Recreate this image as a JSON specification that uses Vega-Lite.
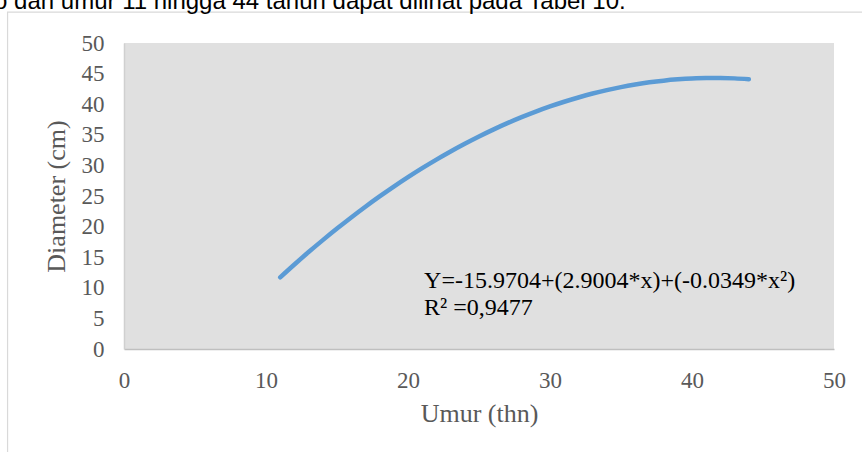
{
  "$schema": "https://vega.github.io/schema/vega-lite/v6.json",
  "width": 710,
  "height": 306,
  "autosize": {"type": "none"},
  "padding": {"left": 124, "top": 43, "right": 28, "bottom": 103},
  "background": "white",
  "config": {
    "view": {"fill": "#e0e0e0", "stroke": null},
    "axis": {
      "grid": false,
      "ticks": false,
      "tickSize": 0,
      "labelOverlap": false,
      "labelFlush": false,
      "labelFont": "Liberation Serif",
      "labelFontSize": 23,
      "labelColor": "#595959",
      "titleFont": "Liberation Serif",
      "titleFontSize": 26,
      "titleFontWeight": "normal",
      "titleColor": "#595959",
      "domainWidth": 1.5
    }
  },
  "layer": [
    {
      "data": {
        "values": [
          {"umur": 11, "diameter": 11.71},
          {"umur": 12, "diameter": 13.81},
          {"umur": 13, "diameter": 15.84},
          {"umur": 14, "diameter": 17.79},
          {"umur": 15, "diameter": 19.68},
          {"umur": 16, "diameter": 21.50},
          {"umur": 17, "diameter": 23.25},
          {"umur": 18, "diameter": 24.93},
          {"umur": 19, "diameter": 26.54},
          {"umur": 20, "diameter": 28.08},
          {"umur": 21, "diameter": 29.55},
          {"umur": 22, "diameter": 30.95},
          {"umur": 23, "diameter": 32.28},
          {"umur": 24, "diameter": 33.54},
          {"umur": 25, "diameter": 34.73},
          {"umur": 26, "diameter": 35.85},
          {"umur": 27, "diameter": 36.90},
          {"umur": 28, "diameter": 37.88},
          {"umur": 29, "diameter": 38.79},
          {"umur": 30, "diameter": 39.63},
          {"umur": 31, "diameter": 40.40},
          {"umur": 32, "diameter": 41.10},
          {"umur": 33, "diameter": 41.74},
          {"umur": 34, "diameter": 42.30},
          {"umur": 35, "diameter": 42.79},
          {"umur": 36, "diameter": 43.21},
          {"umur": 37, "diameter": 43.57},
          {"umur": 38, "diameter": 43.85},
          {"umur": 39, "diameter": 44.06},
          {"umur": 40, "diameter": 44.21},
          {"umur": 41, "diameter": 44.28},
          {"umur": 42, "diameter": 44.28},
          {"umur": 43, "diameter": 44.22},
          {"umur": 44, "diameter": 44.08}
        ]
      },
      "mark": {"type": "line", "color": "#5b9bd5", "strokeWidth": 4.5, "strokeCap": "round", "interpolate": "monotone"},
      "encoding": {
        "x": {
          "field": "umur",
          "type": "quantitative",
          "scale": {"domain": [0, 50], "nice": false, "zero": false},
          "axis": {"title": "Umur (thn)", "values": [0, 10, 20, 30, 40, 50], "labelOverlap": false, "labelFlush": false, "labelPadding": 20, "titlePadding": 8, "domainColor": "#bfbfbf"}
        },
        "y": {
          "field": "diameter",
          "type": "quantitative",
          "scale": {"domain": [0, 50], "nice": false, "zero": false},
          "axis": {"title": "Diameter (cm)", "values": [0, 5, 10, 15, 20, 25, 30, 35, 40, 45, 50], "labelOverlap": false, "labelFlush": false, "labelPadding": 20, "titlePadding": 12, "domainColor": "#d0d0d0"}
        }
      }
    },
    {
      "data": {"values": [{"box": "chart"}]},
      "mark": {"type": "rect", "fill": "transparent", "stroke": "#d9d9d9", "strokeWidth": 1.2},
      "encoding": {
        "x": {
          "datum": -8.2,
          "type": "quantitative",
          "scale": {"domain": [0, 50], "nice": false, "zero": false},
          "axis": {"title": "Umur (thn)", "values": [0, 10, 20, 30, 40, 50], "labelOverlap": false, "labelFlush": false, "labelPadding": 20, "titlePadding": 8, "domainColor": "#bfbfbf"}
        },
        "x2": {"datum": 80},
        "y": {
          "datum": 55.05,
          "type": "quantitative",
          "scale": {"domain": [0, 50], "nice": false, "zero": false},
          "axis": {"title": "Diameter (cm)", "values": [0, 5, 10, 15, 20, 25, 30, 35, 40, 45, 50], "labelOverlap": false, "labelFlush": false, "labelPadding": 20, "titlePadding": 12, "domainColor": "#d0d0d0"}
        },
        "y2": {"datum": -30}
      }
    },
    {
      "data": {"values": [{"kalimat": "o dan umur 11 hingga 44 tahun dapat dilihat pada Tabel 10."}]},
      "mark": {"type": "text", "font": "Liberation Sans", "fontSize": 24, "color": "#000000", "align": "left", "baseline": "alphabetic"},
      "encoding": {
        "x": {
          "datum": -9.15,
          "type": "quantitative",
          "scale": {"domain": [0, 50], "nice": false, "zero": false},
          "axis": {"title": "Umur (thn)", "values": [0, 10, 20, 30, 40, 50], "labelOverlap": false, "labelFlush": false, "labelPadding": 20, "titlePadding": 8, "domainColor": "#bfbfbf"}
        },
        "y": {
          "datum": 55.56,
          "type": "quantitative",
          "scale": {"domain": [0, 50], "nice": false, "zero": false},
          "axis": {"title": "Diameter (cm)", "values": [0, 5, 10, 15, 20, 25, 30, 35, 40, 45, 50], "labelOverlap": false, "labelFlush": false, "labelPadding": 20, "titlePadding": 12, "domainColor": "#d0d0d0"}
        },
        "text": {"field": "kalimat"}
      }
    },
    {
      "data": {"values": [{"persamaan": "Y=-15.9704+(2.9004*x)+(-0.0349*x²)"}]},
      "mark": {"type": "text", "font": "Liberation Serif", "fontSize": 24, "color": "#000000", "align": "left", "baseline": "alphabetic"},
      "encoding": {
        "x": {
          "datum": 21.13,
          "type": "quantitative",
          "scale": {"domain": [0, 50], "nice": false, "zero": false},
          "axis": {"title": "Umur (thn)", "values": [0, 10, 20, 30, 40, 50], "labelOverlap": false, "labelFlush": false, "labelPadding": 20, "titlePadding": 8, "domainColor": "#bfbfbf"}
        },
        "y": {
          "datum": 9.97,
          "type": "quantitative",
          "scale": {"domain": [0, 50], "nice": false, "zero": false},
          "axis": {"title": "Diameter (cm)", "values": [0, 5, 10, 15, 20, 25, 30, 35, 40, 45, 50], "labelOverlap": false, "labelFlush": false, "labelPadding": 20, "titlePadding": 12, "domainColor": "#d0d0d0"}
        },
        "text": {"field": "persamaan"}
      }
    },
    {
      "data": {"values": [{"persamaan": "R² =0,9477"}]},
      "mark": {"type": "text", "font": "Liberation Serif", "fontSize": 24, "color": "#000000", "align": "left", "baseline": "alphabetic"},
      "encoding": {
        "x": {
          "datum": 21.13,
          "type": "quantitative",
          "scale": {"domain": [0, 50], "nice": false, "zero": false},
          "axis": {"title": "Umur (thn)", "values": [0, 10, 20, 30, 40, 50], "labelOverlap": false, "labelFlush": false, "labelPadding": 20, "titlePadding": 8, "domainColor": "#bfbfbf"}
        },
        "y": {
          "datum": 5.56,
          "type": "quantitative",
          "scale": {"domain": [0, 50], "nice": false, "zero": false},
          "axis": {"title": "Diameter (cm)", "values": [0, 5, 10, 15, 20, 25, 30, 35, 40, 45, 50], "labelOverlap": false, "labelFlush": false, "labelPadding": 20, "titlePadding": 12, "domainColor": "#d0d0d0"}
        },
        "text": {"field": "persamaan"}
      }
    }
  ]
}
